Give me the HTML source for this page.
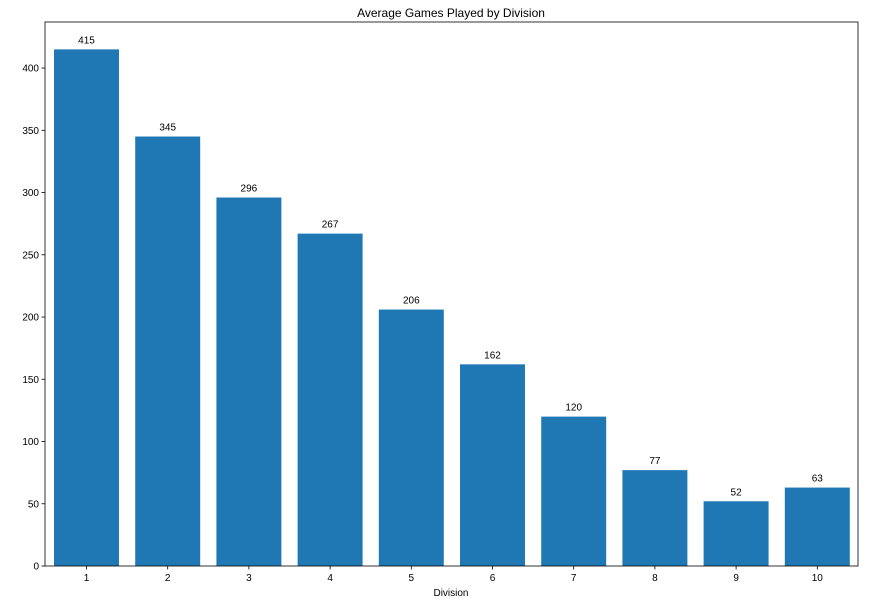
<!DOCTYPE html>
<html><head><meta charset="utf-8"><style>
body{margin:0;background:#fff;font-family:"Liberation Sans",sans-serif;}
</style></head><body>
<svg width="877" height="604" xmlns="http://www.w3.org/2000/svg" font-family="Liberation Sans, sans-serif">
<rect width="877" height="604" fill="#fff"/>
<text x="451" y="17" text-anchor="middle" font-size="12">Average Games Played by Division</text>
<g id="plot"></g>
<rect x="45" y="22" width="813" height="544" fill="none" stroke="#000" stroke-width="0.8"/>
<text x="451" y="596" text-anchor="middle" font-size="10">Division</text>
</svg>
<script>
const categories = ["1","2","3","4","5","6","7","8","9","10"];
const values = [415,345,296,267,206,162,120,77,52,63];
const yTicks = [0,50,100,150,200,250,300,350,400];
const NS="http://www.w3.org/2000/svg";
const g=document.getElementById('plot');
const y0=566, yTop=22, yMax=437;
function yScale(v){return y0-(v/yMax)*(y0-yTop);}
const left=45, right=858, n=categories.length;
const step=81.2, first=86.5;
function xScale(i){return first+i*step;}
const bw=step*0.8;
function mk(tag,attrs){const e=document.createElementNS(NS,tag);for(const k in attrs)e.setAttribute(k,attrs[k]);return e;}
yTicks.forEach(t=>{
  const y=yScale(t);
  const l=mk('line',{x1:left-3.5,x2:left,y1:y,y2:y,stroke:'#000','stroke-width':0.8});
  
  
  g.appendChild(l);
  const tx=mk('text',{x:left-6,y:y+3.5,'text-anchor':'end','font-size':10});
  tx.textContent=t;
  
  
  g.appendChild(tx);
});
categories.forEach((c,i)=>{
  const cx=xScale(i), v=values[i];
  const r=mk('rect',{x:cx-bw/2,y:yScale(v),width:bw,height:y0-yScale(v),fill:'#1f77b4'});
  
  
  g.appendChild(r);
  const lb=mk('text',{x:cx,y:yScale(v)-6,'text-anchor':'middle','font-size':10});
  lb.textContent=v;
  
  
  g.appendChild(lb);
  const tk=mk('line',{x1:cx,x2:cx,y1:y0,y2:y0+3.5,stroke:'#000','stroke-width':0.8});
  
  
  g.appendChild(tk);
  const tl=mk('text',{x:cx,y:y0+15,'text-anchor':'middle','font-size':10});
  tl.textContent=c;
  
  
  g.appendChild(tl);
});
</script>
</body></html>
